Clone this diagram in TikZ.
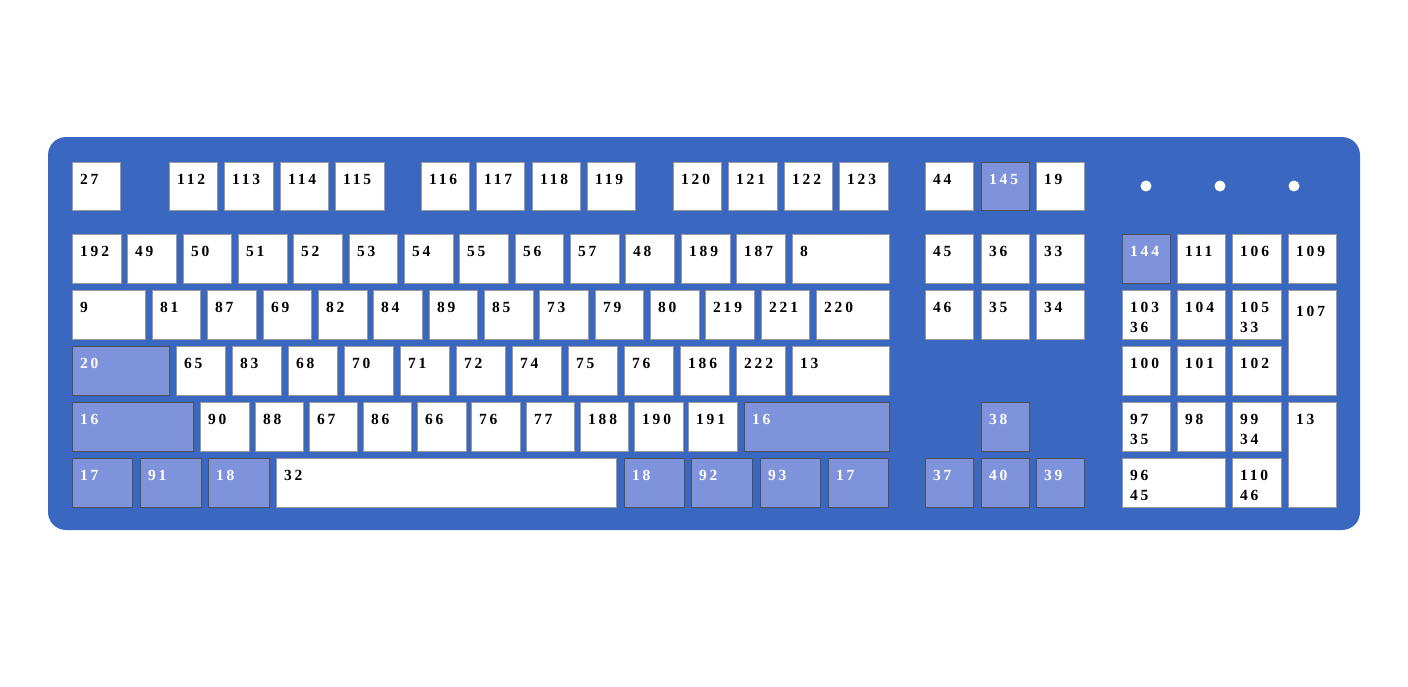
\documentclass[tikz,border=0pt]{standalone}
\usepackage{fontspec}
\newfontfamily\keyfont[LetterSpace=18]{Liberation Serif}
\definecolor{bodyblue}{HTML}{3A68C0}
\definecolor{keyblue}{HTML}{7F93DC}
\definecolor{wedge}{HTML}{999999}
\definecolor{bedge}{HTML}{505050}
\tikzset{
  keybase/.style={rectangle, anchor=north west, inner sep=0pt, outer sep=0pt, line width=1pt},
  wk/.style={keybase, fill=white, draw=wedge},
  bk/.style={keybase, fill=keyblue, draw=bedge},
  labbase/.style={anchor=base west, inner sep=0pt, xshift=8pt, font=\keyfont\bfseries\fontsize{15.5}{20}\selectfont},
  labwk/.style={labbase, text=black},
  labbk/.style={labbase, text=white},
  led/.style={circle, fill=white, draw=none, minimum size=11pt, inner sep=0pt}
}
% style, id, x1, y1, x2, y2, label
\newcommand\K[7]{%
  \node[#1, minimum width={#5-#3}, minimum height={#6-#4},
        label={[lab#1, yshift=-22pt]north west:#7}] (#2) at (#3,#4) {};}
% two-line key
\newcommand\KK[8]{%
  \node[#1, minimum width={#5-#3}, minimum height={#6-#4},
        label={[lab#1, yshift=-22pt]north west:#7},
        label={[lab#1, yshift=-42pt]north west:#8}] (#2) at (#3,#4) {};}
\begin{document}
\begin{tikzpicture}[x=1pt, y=-1pt]
\useasboundingbox (0,0) rectangle (1408,686);
\fill[bodyblue, rounded corners=18pt] (48,137) rectangle (1360,530);
\node[led] (led1) at (1146,186) {};
\node[led] (led2) at (1220,186) {};
\node[led] (led3) at (1294,186) {};
% row 1
\K{wk}{k27}{72}{162}{120}{210}{27}
\K{wk}{k112}{169}{162}{217}{210}{112}
\K{wk}{k113}{224}{162}{273}{210}{113}
\K{wk}{k114}{280}{162}{328}{210}{114}
\K{wk}{k115}{335}{162}{384}{210}{115}
\K{wk}{k116}{421}{162}{469}{210}{116}
\K{wk}{k117}{476}{162}{524}{210}{117}
\K{wk}{k118}{532}{162}{580}{210}{118}
\K{wk}{k119}{587}{162}{635}{210}{119}
\K{wk}{k120}{673}{162}{721}{210}{120}
\K{wk}{k121}{728}{162}{777}{210}{121}
\K{wk}{k122}{784}{162}{832}{210}{122}
\K{wk}{k123}{839}{162}{888}{210}{123}
\K{wk}{k44}{925}{162}{973}{210}{44}
\K{bk}{k145}{981}{162}{1029}{210}{145}
\K{wk}{k19}{1036}{162}{1084}{210}{19}
% row 2
\K{wk}{k192}{72}{234}{121}{283}{192}
\K{wk}{k49}{127}{234}{176}{283}{49}
\K{wk}{k50}{183}{234}{231}{283}{50}
\K{wk}{k51}{238}{234}{287}{283}{51}
\K{wk}{k52}{293}{234}{342}{283}{52}
\K{wk}{k53}{349}{234}{397}{283}{53}
\K{wk}{k54}{404}{234}{453}{283}{54}
\K{wk}{k55}{459}{234}{508}{283}{55}
\K{wk}{k56}{515}{234}{563}{283}{56}
\K{wk}{k57}{570}{234}{619}{283}{57}
\K{wk}{k48}{625}{234}{674}{283}{48}
\K{wk}{k189}{681}{234}{730}{283}{189}
\K{wk}{k187}{736}{234}{785}{283}{187}
\K{wk}{k8}{792}{234}{889}{283}{8}
\K{wk}{k45}{925}{234}{973}{283}{45}
\K{wk}{k36}{981}{234}{1029}{283}{36}
\K{wk}{k33}{1036}{234}{1084}{283}{33}
\K{bk}{k144}{1122}{234}{1170}{283}{144}
\K{wk}{k111}{1177}{234}{1225}{283}{111}
\K{wk}{k106}{1232}{234}{1281}{283}{106}
\K{wk}{k109}{1288}{234}{1336}{283}{109}
% row 3
\K{wk}{k9}{72}{290}{145}{339}{9}
\K{wk}{k81}{152}{290}{200}{339}{81}
\K{wk}{k87}{207}{290}{256}{339}{87}
\K{wk}{k69}{263}{290}{311}{339}{69}
\K{wk}{k82}{318}{290}{367}{339}{82}
\K{wk}{k84}{373}{290}{422}{339}{84}
\K{wk}{k89}{429}{290}{477}{339}{89}
\K{wk}{k85}{484}{290}{533}{339}{85}
\K{wk}{k73}{539}{290}{588}{339}{73}
\K{wk}{k79}{595}{290}{643}{339}{79}
\K{wk}{k80}{650}{290}{699}{339}{80}
\K{wk}{k219}{705}{290}{754}{339}{219}
\K{wk}{k221}{761}{290}{809}{339}{221}
\K{wk}{k220}{816}{290}{889}{339}{220}
\K{wk}{k46}{925}{290}{973}{339}{46}
\K{wk}{k35}{981}{290}{1029}{339}{35}
\K{wk}{k34}{1036}{290}{1084}{339}{34}
\KK{wk}{k103}{1122}{290}{1170}{339}{103}{36}
\K{wk}{k104}{1177}{290}{1225}{339}{104}
\KK{wk}{k105}{1232}{290}{1281}{339}{105}{33}
\node[wk, minimum width=48, minimum height=105,
      label={[labwk, yshift=-26pt]north west:107}] (k107) at (1288,290) {};
% row 4
\K{bk}{k20}{72}{346}{169}{395}{20}
\K{wk}{k65}{176}{346}{225}{395}{65}
\K{wk}{k83}{232}{346}{281}{395}{83}
\K{wk}{k68}{288}{346}{337}{395}{68}
\K{wk}{k70}{344}{346}{393}{395}{70}
\K{wk}{k71}{400}{346}{449}{395}{71}
\K{wk}{k72}{456}{346}{505}{395}{72}
\K{wk}{k74}{512}{346}{561}{395}{74}
\K{wk}{k75}{568}{346}{617}{395}{75}
\K{wk}{k76a}{624}{346}{673}{395}{76}
\K{wk}{k186}{680}{346}{729}{395}{186}
\K{wk}{k222}{736}{346}{785}{395}{222}
\K{wk}{k13a}{792}{346}{889}{395}{13}
\K{wk}{k100}{1122}{346}{1170}{395}{100}
\K{wk}{k101}{1177}{346}{1225}{395}{101}
\K{wk}{k102}{1232}{346}{1281}{395}{102}
% row 5
\K{bk}{k16a}{72}{402}{193}{451}{16}
\K{wk}{k90}{200}{402}{249}{451}{90}
\K{wk}{k88}{255}{402}{303}{451}{88}
\K{wk}{k67}{309}{402}{357}{451}{67}
\K{wk}{k86}{363}{402}{411}{451}{86}
\K{wk}{k66}{417}{402}{466}{451}{66}
\K{wk}{k76b}{471}{402}{520}{451}{76}
\K{wk}{k77}{526}{402}{574}{451}{77}
\K{wk}{k188}{580}{402}{628}{451}{188}
\K{wk}{k190}{634}{402}{683}{451}{190}
\K{wk}{k191}{688}{402}{737}{451}{191}
\K{bk}{k16b}{744}{402}{889}{451}{16}
\K{bk}{k38}{981}{402}{1029}{451}{38}
\KK{wk}{k97}{1122}{402}{1170}{451}{97}{35}
\K{wk}{k98}{1177}{402}{1225}{451}{98}
\KK{wk}{k99}{1232}{402}{1281}{451}{99}{34}
\node[wk, minimum width=48, minimum height=105,
      label={[labwk, yshift=-22pt]north west:13}] (k13b) at (1288,402) {};
% row 6
\K{bk}{k17a}{72}{458}{132}{507}{17}
\K{bk}{k91}{140}{458}{201}{507}{91}
\K{bk}{k18a}{208}{458}{269}{507}{18}
\K{wk}{k32}{276}{458}{616}{507}{32}
\K{bk}{k18b}{624}{458}{684}{507}{18}
\K{bk}{k92}{691}{458}{752}{507}{92}
\K{bk}{k93}{760}{458}{820}{507}{93}
\K{bk}{k17b}{828}{458}{888}{507}{17}
\K{bk}{k37}{925}{458}{973}{507}{37}
\K{bk}{k40}{981}{458}{1029}{507}{40}
\K{bk}{k39}{1036}{458}{1084}{507}{39}
\KK{wk}{k96}{1122}{458}{1225}{507}{96}{45}
\KK{wk}{k110}{1232}{458}{1281}{507}{110}{46}
\end{tikzpicture}
\end{document}
